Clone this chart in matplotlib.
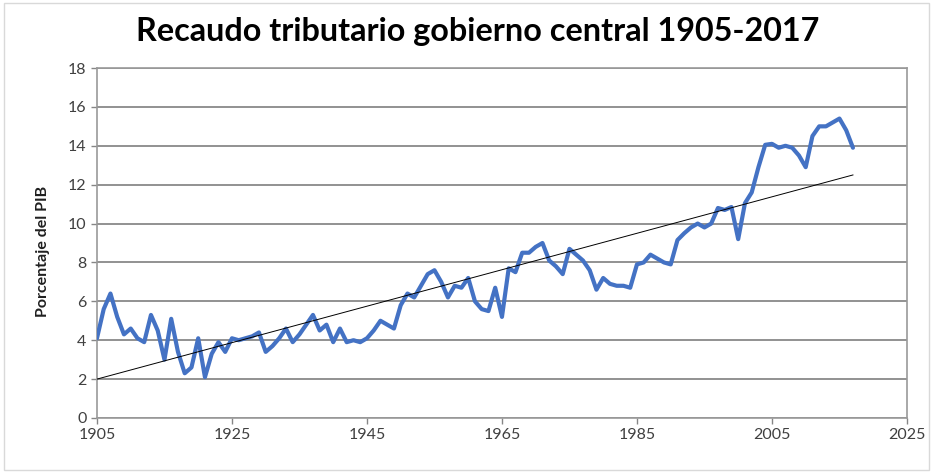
import matplotlib
matplotlib.use("Agg")
import matplotlib.pyplot as plt
import numpy as np

years = list(range(1905, 2018))
values = [
    4.1, 5.6, 6.4, 5.2, 4.3, 4.6, 4.1, 3.9, 5.3, 4.5,   # 1905-1914
    3.0, 5.1, 3.4, 2.3, 2.6, 4.1, 2.1, 3.3, 3.9, 3.4,   # 1915-1924
    4.1, 4.0, 4.1, 4.2, 4.4, 3.4, 3.7, 4.1, 4.6, 3.9,   # 1925-1934
    4.3, 4.8, 5.3, 4.5, 4.8, 3.9, 4.6, 3.9, 4.0, 3.9,   # 1935-1944
    4.1, 4.5, 5.0, 4.8, 4.6, 5.8, 6.4, 6.2, 6.8, 7.4,   # 1945-1954
    7.6, 7.0, 6.2, 6.8, 6.7, 7.2, 6.0, 5.6, 5.5, 6.7,   # 1955-1964
    5.2, 7.7, 7.5, 8.5, 8.5, 8.8, 9.0, 8.1, 7.8, 7.4,   # 1965-1974
    8.7, 8.4, 8.1, 7.6, 6.6, 7.2, 6.9, 6.8, 6.8, 6.7,   # 1975-1984
    7.9, 8.0, 8.4, 8.2, 8.0, 7.9, 9.15, 9.5, 9.8, 10.0, # 1985-1994
    9.8, 10.0, 10.8, 10.7, 10.85, 9.2, 11.05, 11.6, 12.9, 14.05,  # 1995-2004
    14.1, 13.9, 14.0, 13.9, 13.5, 12.9, 14.5, 15.0, 15.0, 15.2,   # 2005-2014
    15.4, 14.8, 13.9,                                   # 2015-2017
]
trend_years = [1905, 2017]
trend_values = [2.0, 12.5]

title = "Recaudo tributario gobierno central 1905-2017"
ylabel = "Porcentaje del PIB"
xticks = [1905, 1925, 1945, 1965, 1985, 2005, 2025]
yticks = [0, 2, 4, 6, 8, 10, 12, 14, 16, 18]

plt.rcParams['font.family'] = ['Lato', 'DejaVu Sans']

fig = plt.figure(figsize=(9.35, 4.73), dpi=100)
fig.patch.set_facecolor('white')
ax = fig.add_axes([0.1037, 0.1163, 0.8663, 0.7399])

ax.plot(years, values, color='#4472C4', lw=3.0, solid_joinstyle='round',
        solid_capstyle='round', zorder=3)
ax.plot(trend_years, trend_values, color='black', lw=0.7, zorder=4)

ax.set_xlim(1905, 2025)
ax.set_ylim(0, 18)
ax.set_xticks(xticks)
ax.set_yticks(yticks)
ax.tick_params(axis='both', labelsize=11.5, colors='#868686', labelcolor='#404040',
               length=4, width=1)
ax.grid(axis='y', color='#7f7f7f', lw=1.2)
ax.set_axisbelow(True)
for s in ax.spines.values():
    s.set_color('#9a9a9a')
    s.set_linewidth(1.2)

ax.set_ylabel(ylabel, fontsize=11.5, fontweight='bold', color='#202020')
ax.yaxis.set_label_coords(-0.058, 0.475)
fig.text(0.511, 0.933, title, ha='center', va='center', fontsize=23.3,
         fontweight='bold', color='black')

# outer chart border
rect = plt.Rectangle((0.004, 0.006), 0.99, 0.988, transform=fig.transFigure,
                     fill=False, edgecolor='#d9d9d9', lw=1)
fig.patches.append(rect)

fig.savefig('out.png', dpi=100)
